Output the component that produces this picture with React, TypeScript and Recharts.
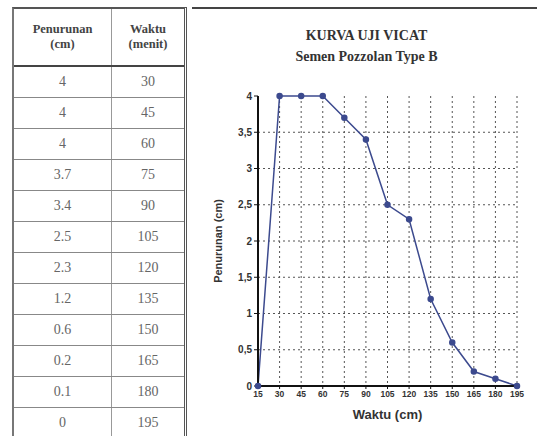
import { LineChart, Line, XAxis, YAxis, CartesianGrid } from 'recharts';

// table values (penurunan in cm, waktu in menit)
const penurunan = [4, 4, 4, 3.7, 3.4, 2.5, 2.3, 1.2, 0.6, 0.2, 0.1, 0];
const waktu = [30, 45, 60, 75, 90, 105, 120, 135, 150, 165, 180, 195];
// graph starts from zero at the first tick
const startWaktu = 15;
const startPenurunan = 0;
const xTicks = [15, 30, 45, 60, 75, 90, 105, 120, 135, 150, 165, 180, 195];
const yTicks = [0, 0.5, 1, 1.5, 2, 2.5, 3, 3.5, 4];

const chartData = [
  { waktu: startWaktu, penurunan: startPenurunan },
  ...waktu.map((w, i) => ({ waktu: w, penurunan: penurunan[i] })),
];

const lineColor = '#3c4a8e';
const serif = '"Liberation Serif", "Times New Roman", serif';
const sans = '"Liberation Sans", Arial, sans-serif';

const DataTable = () => (
  <div
    style={{
      position: 'absolute',
      left: 12,
      top: 7,
      width: 175,
      height: 429,
      borderLeft: '2px solid #777',
      borderTop: '2px solid #555',
      borderRight: '3px double #555',
      boxSizing: 'border-box',
      fontFamily: serif,
      background: '#fff',
    }}
  >
    <div style={{ display: 'flex', height: 56, borderBottom: '2px solid #444' }}>
      <div style={{ width: 97, borderRight: '1px solid #999', textAlign: 'center', fontWeight: 'bold', fontSize: 12.5, lineHeight: '15px', paddingTop: 13, color: '#444' }}>
        Penurunan<br />(cm)
      </div>
      <div style={{ flex: 1, textAlign: 'center', fontWeight: 'bold', fontSize: 12.5, lineHeight: '15px', paddingTop: 13, color: '#444' }}>
        Waktu<br />(menit)
      </div>
    </div>
    {waktu.map((w, i) => (
      <div key={w} style={{ display: 'flex', height: 31, borderBottom: '1px solid #888', boxSizing: 'border-box' }}>
        <div style={{ width: 97, borderRight: '1px solid #999', textAlign: 'center', fontSize: 14, lineHeight: '30px', color: '#666' }}>
          {penurunan[i]}
        </div>
        <div style={{ flex: 1, textAlign: 'center', fontSize: 14, lineHeight: '30px', color: '#666' }}>{w}</div>
      </div>
    ))}
  </div>
);

const VicatChart = () => (
  <div style={{ position: 'absolute', left: 192, top: 7, width: 345, height: 429, borderTop: '2px solid #444', boxSizing: 'border-box', background: '#fff' }}>
    <div style={{ position: 'absolute', left: 0, width: 345, top: 16, textAlign: 'center', fontFamily: serif, fontWeight: 'bold', fontSize: 14, lineHeight: '21px', color: '#333' }}>
      <div style={{ marginLeft: 4 }}>KURVA UJI VICAT</div>
      <div style={{ marginLeft: 4 }}>Semen Pozzolan Type B</div>
    </div>
    <LineChart
      width={345}
      height={427}
      data={chartData}
      margin={{ top: 87, right: 20, bottom: 5, left: 0 }}
      style={{ position: 'absolute', top: 0, left: 0 }}
    >
      <CartesianGrid
        stroke="#555"
        strokeDasharray="2 3"
        horizontalValues={[0.5, 1, 1.5, 2, 2.5, 3, 3.5]}
        verticalValues={[30, 45, 60, 75, 90, 105, 120, 135, 150, 165, 180, 195]}
      />
      <XAxis
        dataKey="waktu"
        type="number"
        domain={[15, 195]}
        ticks={xTicks}
        interval={0}
        height={45}
        axisLine={{ stroke: '#111', strokeWidth: 2 }}
        tickLine={{ stroke: '#111' }}
        tickSize={3}
        tick={{ fill: '#333', fontSize: 8.5, fontWeight: 'bold', fontFamily: sans }}
        label={{ value: 'Waktu (cm)', position: 'insideBottom', offset: 12, fill: '#333', fontSize: 13, fontWeight: 'bold', fontFamily: sans }}
      />
      <YAxis
        type="number"
        domain={[0, 4]}
        ticks={yTicks}
        interval={0}
        width={66}
        axisLine={{ stroke: '#111', strokeWidth: 2 }}
        tickLine={{ stroke: '#111' }}
        tickSize={4}
        tickFormatter={(v: number) => String(v).replace('.', ',')}
        tick={{ fill: '#333', fontSize: 10, fontWeight: 'bold', fontFamily: sans }}
        label={{ value: 'Penurunan (cm)', angle: -90, position: 'insideLeft', offset: 26, fill: '#333', fontSize: 11, fontWeight: 'bold', fontFamily: sans, style: { textAnchor: 'middle' } }}
      />
      <Line
        type="linear"
        dataKey="penurunan"
        stroke={lineColor}
        strokeWidth={1.5}
        dot={{ r: 2.5, fill: lineColor, stroke: lineColor }}
        isAnimationActive={false}
      />
    </LineChart>
  </div>
);

export default function App() {
  return (
    <div style={{ position: 'absolute', left: 0, top: 0, width: 537, height: 436, background: '#fff', overflow: 'hidden' }}>
      <DataTable />
      <VicatChart />
    </div>
  );
}
